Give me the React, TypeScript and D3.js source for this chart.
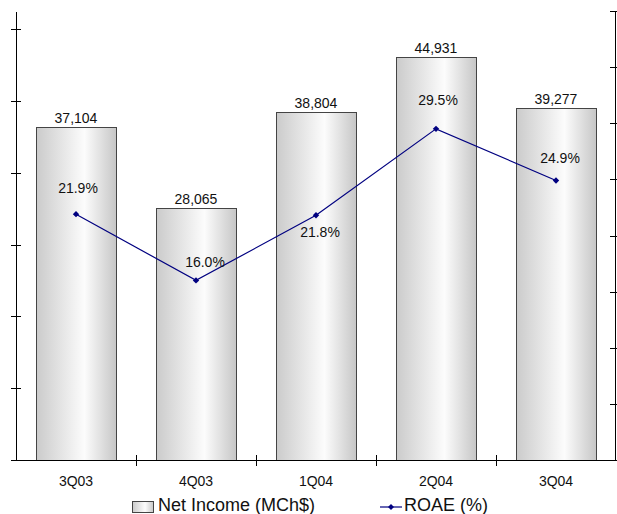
import React from "react";
import * as d3 from "d3";

// Quarterly results
const quarters = ["3Q03", "4Q03", "1Q04", "2Q04", "3Q04"];
const netIncome = [37104, 28065, 38804, 44931, 39277];
const roae = [21.9, 16.0, 21.8, 29.5, 24.9];

// Axis tick values
const leftTicks = [0, 8000, 16000, 24000, 32000, 40000, 48000];
const rightTicks = [0, 5, 10, 15, 20, 25, 30, 35, 40];

// Nudges for the ROAE labels (dx, dy from the marker)
const roaeLabelNudge: [number, number][] = [
  [2, -21],
  [9, -13],
  [4, 22],
  [2, -24],
  [4, -17],
];

const W = 617;
const H = 514;
const FONT = "'Liberation Sans', Arial, sans-serif";

export default function App() {
  const left = 16;
  const right = 616;
  const base = 460;

  const x = d3.scaleBand<string>().domain(quarters).range([left, right]).paddingInner(1 / 3).paddingOuter(1 / 6);
  const yL = d3.scaleLinear().domain([0, 50000]).range([base, 11.5]);
  const yR = d3.scaleLinear().domain([0, 40]).range([base, 11]);

  const cx = (q: string) => (x(q) as number) + x.bandwidth() / 2;
  const fmt = d3.format(",");

  const line = d3
    .line<number>()
    .x((_, i) => cx(quarters[i]))
    .y((v) => yR(v));

  const diamond = (px: number, py: number, r: number) =>
    `M${px},${py - r}L${px + r},${py}L${px},${py + r}L${px - r},${py}Z`;

  const step = (right - left) / quarters.length;
  const catTicks = d3.range(1, quarters.length).map((i) => left + i * step);

  return (
    <svg
      width={W}
      height={H}
      style={{ position: "absolute", left: 0, top: 0, background: "#fff" }}
      fontFamily={FONT}
    >
      <defs>
        <linearGradient id="barGrad" x1="0" x2="1" y1="0" y2="0">
          <stop offset="0" stopColor="#cbcbcb" />
          <stop offset="0.6" stopColor="#fcfcfc" />
          <stop offset="1" stopColor="#c6c6c6" />
        </linearGradient>
      </defs>

      {/* bars */}
      {quarters.map((q, i) => (
        <rect
          key={q}
          x={(x(q) as number) + 0.5}
          y={Math.round(yL(netIncome[i])) + 0.5}
          width={x.bandwidth()}
          height={base - Math.round(yL(netIncome[i]))}
          fill="url(#barGrad)"
          stroke="#444"
          strokeWidth={1}
        />
      ))}

      {/* bar value labels */}
      {quarters.map((q, i) => (
        <text
          key={q}
          x={cx(q)}
          y={yL(netIncome[i]) - 4}
          textAnchor="middle"
          fontSize={14}
          fill="#111"
        >
          {fmt(netIncome[i])}
        </text>
      ))}

      {/* left axis */}
      <line x1={left + 0.5} x2={left + 0.5} y1={12} y2={base} stroke="#000" />
      {leftTicks.map((t) => (
        <line key={t} x1={11} x2={21} y1={Math.round(yL(t)) + 0.5} y2={Math.round(yL(t)) + 0.5} stroke="#000" />
      ))}

      {/* right axis */}
      <line x1={right - 0.5} x2={right - 0.5} y1={11} y2={base} stroke="#000" />
      {rightTicks.map((t) => (
        <line key={t} x1={610} x2={617} y1={Math.round(yR(t)) + 0.5} y2={Math.round(yR(t)) + 0.5} stroke="#000" />
      ))}

      {/* category axis */}
      <line x1={left} x2={right} y1={base + 0.5} y2={base + 0.5} stroke="#000" />
      {catTicks.map((t) => (
        <line key={t} x1={Math.round(t) + 0.5} x2={Math.round(t) + 0.5} y1={455} y2={466} stroke="#000" />
      ))}
      {quarters.map((q) => (
        <text key={q} x={cx(q)} y={485.5} textAnchor="middle" fontSize={14} fill="#111">
          {q}
        </text>
      ))}

      {/* ROAE line */}
      <path d={line(roae) ?? ""} fill="none" stroke="#000080" strokeWidth={1.2} />
      {roae.map((v, i) => (
        <path key={i} d={diamond(cx(quarters[i]), yR(v), 3.2)} fill="#000080" />
      ))}
      {roae.map((v, i) => (
        <text
          key={i}
          x={cx(quarters[i]) + roaeLabelNudge[i][0]}
          y={yR(v) + roaeLabelNudge[i][1]}
          textAnchor="middle"
          fontSize={14}
          fill="#111"
        >
          {v.toFixed(1)}%
        </text>
      ))}

      {/* legend */}
      <rect x={132.5} y={501.5} width={21} height={11} fill="url(#barGrad)" stroke="#444" />
      <text x={158} y={511} fontSize={18} fill="#111">
        Net Income (MCh$)
      </text>
      <line x1={380} x2={402} y1={507} y2={507} stroke="#000080" strokeWidth={1.2} />
      <path d={diamond(391, 507, 3)} fill="#000080" />
      <text x={404} y={511} fontSize={18} fill="#111">
        ROAE (%)
      </text>
    </svg>
  );
}
